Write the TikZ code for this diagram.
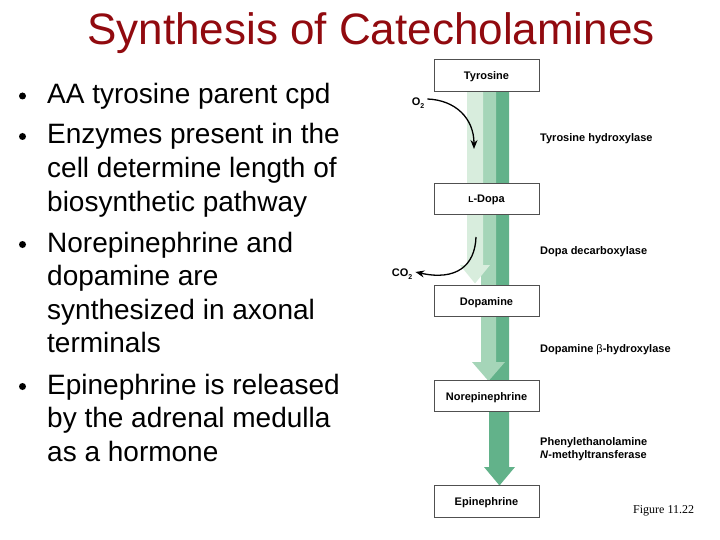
\documentclass[tikz,border=0pt]{standalone}
\usepackage{fontspec}
\setmainfont{Liberation Sans}
\newfontfamily\timesfont{Liberation Serif}
\usetikzlibrary{arrows.meta}
\definecolor{titlered}{RGB}{145,10,15}
\definecolor{glight}{RGB}{216,237,221}
\definecolor{gmed}{RGB}{165,213,184}
\definecolor{gdark}{RGB}{98,178,138}
\definecolor{boxline}{RGB}{80,80,80}
\begin{document}
\begin{tikzpicture}[x=1pt,y=-1pt,
  bullettext/.style={anchor=base west, inner sep=0, font=\fontsize{28}{28}\selectfont},
  bulletdot/.style={circle, fill=black, inner sep=0, minimum size=7pt},
  molbox/.style={draw=boxline, line width=0.8pt, fill=white, minimum width=105pt, minimum height=31.5pt, inner sep=0, text height=9pt, text depth=1pt, font=\fontsize{11}{11}\selectfont\bfseries},
  enzyme/.style={anchor=west, inner sep=0, align=left, font=\fontsize{11}{13}\selectfont\bfseries},
  chem/.style={inner sep=0, font=\fontsize{11}{11}\selectfont\bfseries},
  rxnarrow/.style={line width=1.3pt, -{Stealth[length=9pt,width=7pt]}}
]
\useasboundingbox (0,0) rectangle (720,540);

% title
\node[anchor=base, text=titlered, font=\fontsize{44}{44}\selectfont, inner sep=0] (title) at (371,45) {Synthesis of Catecholamines};

% bullets
\node[bulletdot] (d1) at (22.5,96) {};
\node[bullettext] (l1) at (47,103.5) {AA tyrosine parent cpd};
\node[bulletdot] (d2) at (22.5,136.5) {};
\node[bullettext] (l2) at (47,144) {Enzymes present in the};
\node[bullettext] (l3) at (47,177.6) {cell determine length of};
\node[bullettext] (l4) at (47,211.2) {biosynthetic pathway};
\node[bulletdot] (d3) at (22.5,244.5) {};
\node[bullettext] (l5) at (47,252) {Norepinephrine and};
\node[bullettext] (l6) at (47,285.6) {dopamine are};
\node[bullettext] (l7) at (47,319.2) {synthesized in axonal};
\node[bullettext] (l8) at (47,352.8) {terminals};
\node[bulletdot] (d4) at (22.5,386.5) {};
\node[bullettext] (l9) at (47,394) {Epinephrine is released};
\node[bullettext] (l10) at (47,427.6) {by the adrenal medulla};
\node[bullettext] (l11) at (47,461.2) {as a hormone};

% green pathway arrows
\fill[gdark] (489,91) -- (509,91) -- (509,467) -- (515,467) -- (499.5,485.5) -- (484,467) -- (489,467) -- cycle;
\fill[gmed] (481,91) -- (496,91) -- (496,362) -- (505,362) -- (488.5,381) -- (472,362) -- (481,362) -- cycle;
\fill[glight] (467,91) -- (483,91) -- (483,265) -- (490,265) -- (475,283.5) -- (460,265) -- (467,265) -- cycle;

% molecule boxes
\node[molbox] (tyr) at (486.5,75.5) {Tyrosine};
\node[molbox] (ldopa) at (486.5,199) {{\fontsize{8.5}{8.5}\selectfont L}-Dopa};
\node[molbox] (dopamine) at (486.5,301) {Dopamine};
\node[molbox] (norepi) at (486.5,396) {Norepinephrine};
\node[molbox] (epi) at (486.5,501.5) {Epinephrine};

% O2 and CO2
\node[chem] (o2) at (418,103) {O\raisebox{-2.5pt}{\fontsize{7}{7}\selectfont 2}};
\node[chem] (co2) at (402,274) {CO\raisebox{-2.5pt}{\fontsize{7}{7}\selectfont 2}};
\coordinate (o2end) at (474,149);
\coordinate (co2start) at (476,237);
\draw[rxnarrow] ([shift={(3,-4)}]o2.east) .. controls (455,100) and (474,118) .. (o2end);
\draw[rxnarrow] (co2start) .. controls (475,266) and (456,281) .. ([shift={(3,-2)}]co2.east);

% enzymes
\node[enzyme] (e1) at (540,139) {Tyrosine hydroxylase};
\node[enzyme] (e2) at (540,252) {Dopa decarboxylase};
\node[enzyme] (e3) at (540,350) {Dopamine \textmd{β}-hydroxylase};
\node[enzyme] (e4) at (540,449.5) {Phenylethanolamine\\\textit{N}-methyltransferase};

% caption
\node[anchor=base west, inner sep=0, font=\timesfont\fontsize{12}{12}\selectfont] (fig) at (633,513) {Figure 11.22};
\end{tikzpicture}
\end{document}
